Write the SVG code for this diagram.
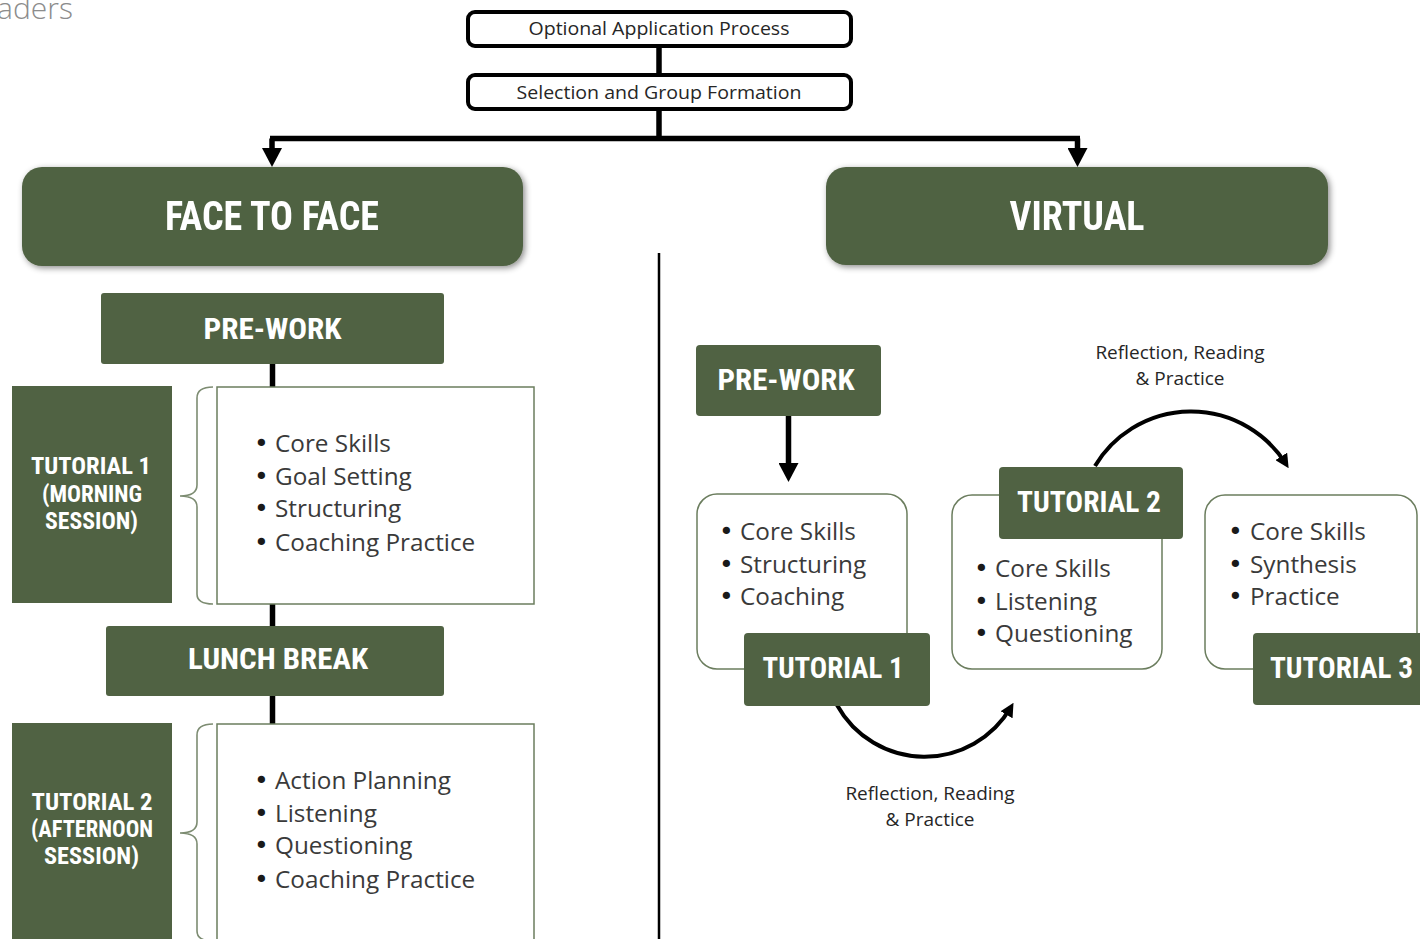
<svg xmlns="http://www.w3.org/2000/svg" width="1420" height="939" viewBox="0 0 1420 939">
  <style>
    .head { font-family: "Roboto Condensed", "DejaVu Sans Condensed", "Liberation Sans Narrow", Roboto, sans-serif; font-weight: bold; fill: #ffffff; text-anchor: middle; }
    .body { font-family: "Open Sans", "Noto Sans", sans-serif; font-size: 24.3px; fill: #3a3a3a; }
    .dot { font-family: "DejaVu Sans", sans-serif; font-size: 25px; fill: #1a1a1a; }
    .small { font-family: "Open Sans", "Noto Sans", sans-serif; fill: #262626; text-anchor: middle; }
    .green { fill: #506243; }
    .step { fill: #ffffff; stroke: #000000; stroke-width: 4; }
    .list { fill: #ffffff; stroke: #6b7d5e; stroke-width: 1.5; }
    .brace { fill: none; stroke: #7d8c72; stroke-width: 1.6; }
    .wire { fill: none; stroke: #000000; stroke-width: 5.5; }
    .curve { fill: none; stroke: #000000; stroke-width: 4; }
  </style>
  <defs>
    <marker id="tri" viewBox="0 0 19 20" markerUnits="userSpaceOnUse" markerWidth="19" markerHeight="20" refX="0" refY="10" orient="auto">
      <path d="M0,0 L19,10 L0,20 z" fill="#000000"/>
    </marker>
    <marker id="tip" viewBox="0 0 14 14" markerUnits="userSpaceOnUse" markerWidth="14" markerHeight="14" refX="9" refY="7" orient="auto">
      <path d="M0,0 L14,7 L0,14 z" fill="#000000"/>
    </marker>
    <filter id="shade" x="-5%" y="-15%" width="112%" height="135%">
      <feDropShadow dx="2" dy="2" stdDeviation="3" flood-color="#000000" flood-opacity="0.45"/>
    </filter>
    <path id="brace" class="brace" d="M213,387 C203,387 197,390 197,398 L197,485 C197,492 191,496 180,496 C191,496 197,500 197,507 L197,594 C197,601 203,604 213,604"/>
  </defs>

  <rect width="1420" height="939" fill="#ffffff"/>

  <!-- page heading fragment -->
  <text x="73" y="19" text-anchor="end" font-family="'Open Sans', 'Noto Sans', sans-serif" font-weight="300" font-size="30" fill="#8c8c8c">aders</text>

  <!-- connectors -->
  <g id="connectors">
    <path class="wire" d="M659,46 V73"/>
    <path class="wire" d="M659,110 V138.5"/>
    <path class="wire" d="M270,138.5 H1080"/>
    <path class="wire" d="M272,138.5 V148" marker-end="url(#tri)"/>
    <path class="wire" d="M1077.5,138.5 V148" marker-end="url(#tri)"/>
    <path d="M659,253 V939" stroke="#000000" stroke-width="2.5"/>
    <path class="wire" d="M272.5,364 V939"/>
    <path class="wire" d="M788.5,416 V463" marker-end="url(#tri)"/>
    <path class="curve" d="M837,705 A100,100 0 0 0 1011,707" marker-end="url(#tip)"/>
    <path class="curve" d="M1095,466 A112,112 0 0 1 1286,464" marker-end="url(#tip)"/>
  </g>

  <!-- top steps -->
  <g id="step-application">
    <rect class="step" x="468" y="12" width="383" height="34" rx="7"/>
    <text x="659" y="35" class="small" font-size="18.5" textLength="261" lengthAdjust="spacingAndGlyphs">Optional Application Process</text>
  </g>
  <g id="step-selection">
    <rect class="step" x="468" y="75" width="383" height="34" rx="7"/>
    <text x="659" y="99" class="small" font-size="18.5" textLength="285" lengthAdjust="spacingAndGlyphs">Selection and Group Formation</text>
  </g>

  <!-- delivery headers -->
  <g id="face-to-face" filter="url(#shade)">
    <rect class="green" x="22" y="167" width="501" height="99" rx="20"/>
    <text x="272" y="230" class="head" font-size="41" textLength="214" lengthAdjust="spacingAndGlyphs">FACE TO FACE</text>
  </g>
  <g id="virtual" filter="url(#shade)">
    <rect class="green" x="826" y="167" width="502" height="98" rx="20"/>
    <text x="1077" y="230" class="head" font-size="41" textLength="135" lengthAdjust="spacingAndGlyphs">VIRTUAL</text>
  </g>

  <!-- face to face track -->
  <g id="f2f-prework">
    <rect class="green" x="101" y="293" width="343" height="71" rx="3"/>
    <text x="272.5" y="339" class="head" font-size="30" textLength="138" lengthAdjust="spacingAndGlyphs">PRE-WORK</text>
  </g>
  <g id="f2f-tutorial1">
    <rect class="green" x="12" y="386" width="160" height="217"/>
    <text x="91" y="474" class="head" font-size="24" textLength="120" lengthAdjust="spacingAndGlyphs">TUTORIAL 1</text>
    <text x="92" y="502" class="head" font-size="24" textLength="100" lengthAdjust="spacingAndGlyphs">(MORNING</text>
    <text x="91.5" y="529" class="head" font-size="24" textLength="93" lengthAdjust="spacingAndGlyphs">SESSION)</text>
  </g>
  <g id="f2f-tutorial1-topics">
    <use href="#brace"/>
    <rect class="list" x="217" y="387" width="317" height="217"/>
    <text class="body"><tspan class="dot" x="254" y="452">•</tspan><tspan x="275">Core Skills</tspan></text>
    <text class="body"><tspan class="dot" x="254" y="485">•</tspan><tspan x="275">Goal Setting</tspan></text>
    <text class="body"><tspan class="dot" x="254" y="517">•</tspan><tspan x="275">Structuring</tspan></text>
    <text class="body"><tspan class="dot" x="254" y="551">•</tspan><tspan x="275">Coaching Practice</tspan></text>
  </g>
  <g id="f2f-lunch">
    <rect class="green" x="106" y="626" width="338" height="70" rx="3"/>
    <text x="278" y="669" class="head" font-size="30" textLength="180" lengthAdjust="spacingAndGlyphs">LUNCH BREAK</text>
  </g>
  <g id="f2f-tutorial2">
    <rect class="green" x="12" y="723" width="160" height="230"/>
    <text x="92" y="810" class="head" font-size="24" textLength="121" lengthAdjust="spacingAndGlyphs">TUTORIAL 2</text>
    <text x="92" y="837" class="head" font-size="24" textLength="122" lengthAdjust="spacingAndGlyphs">(AFTERNOON</text>
    <text x="91.5" y="864" class="head" font-size="24" textLength="95" lengthAdjust="spacingAndGlyphs">SESSION)</text>
  </g>
  <g id="f2f-tutorial2-topics">
    <use href="#brace" transform="translate(0,337)"/>
    <rect class="list" x="217" y="724" width="317" height="230"/>
    <text class="body"><tspan class="dot" x="254" y="789">•</tspan><tspan x="275">Action Planning</tspan></text>
    <text class="body"><tspan class="dot" x="254" y="822">•</tspan><tspan x="275">Listening</tspan></text>
    <text class="body"><tspan class="dot" x="254" y="854">•</tspan><tspan x="275">Questioning</tspan></text>
    <text class="body"><tspan class="dot" x="254" y="888">•</tspan><tspan x="275">Coaching Practice</tspan></text>
  </g>

  <!-- virtual track -->
  <g id="v-prework">
    <rect class="green" x="696" y="345" width="185" height="71" rx="4"/>
    <text x="786" y="390" class="head" font-size="29" textLength="137" lengthAdjust="spacingAndGlyphs">PRE-WORK</text>
  </g>
  <g id="v-tutorial1">
    <rect class="list" x="697" y="494" width="210" height="175" rx="20"/>
    <text class="body"><tspan class="dot" x="719" y="540">•</tspan><tspan x="740">Core Skills</tspan></text>
    <text class="body"><tspan class="dot" x="719" y="573">•</tspan><tspan x="740">Structuring</tspan></text>
    <text class="body"><tspan class="dot" x="719" y="605">•</tspan><tspan x="740">Coaching</tspan></text>
    <rect class="green" x="744" y="633" width="186" height="73" rx="4"/>
    <text x="833" y="678" class="head" font-size="29" textLength="141" lengthAdjust="spacingAndGlyphs">TUTORIAL 1</text>
  </g>
  <g id="v-tutorial2">
    <rect class="list" x="952" y="495" width="210" height="174" rx="20"/>
    <text class="body"><tspan class="dot" x="974" y="577">•</tspan><tspan x="995">Core Skills</tspan></text>
    <text class="body"><tspan class="dot" x="974" y="610">•</tspan><tspan x="995">Listening</tspan></text>
    <text class="body"><tspan class="dot" x="974" y="642">•</tspan><tspan x="995">Questioning</tspan></text>
    <rect class="green" x="999" y="467" width="184" height="72" rx="4"/>
    <text x="1089" y="512" class="head" font-size="29" textLength="144" lengthAdjust="spacingAndGlyphs">TUTORIAL 2</text>
  </g>
  <g id="v-tutorial3">
    <rect class="list" x="1205" y="495" width="212" height="174" rx="20"/>
    <text class="body"><tspan class="dot" x="1228" y="540">•</tspan><tspan x="1250">Core Skills</tspan></text>
    <text class="body"><tspan class="dot" x="1228" y="573">•</tspan><tspan x="1250">Synthesis</tspan></text>
    <text class="body"><tspan class="dot" x="1228" y="605">•</tspan><tspan x="1250">Practice</tspan></text>
    <rect class="green" x="1253" y="633" width="180" height="72" rx="4"/>
    <text x="1341.5" y="678" class="head" font-size="29" textLength="143" lengthAdjust="spacingAndGlyphs">TUTORIAL 3</text>
  </g>

  <!-- connector labels -->
  <g id="label-reflection-upper">
    <text class="small" font-size="19" x="1180" y="359">Reflection, Reading</text>
    <text class="small" font-size="19" x="1180" y="385">&amp; Practice</text>
  </g>
  <g id="label-reflection-lower">
    <text class="small" font-size="19" x="930" y="800">Reflection, Reading</text>
    <text class="small" font-size="19" x="930" y="826">&amp; Practice</text>
  </g>
</svg>
